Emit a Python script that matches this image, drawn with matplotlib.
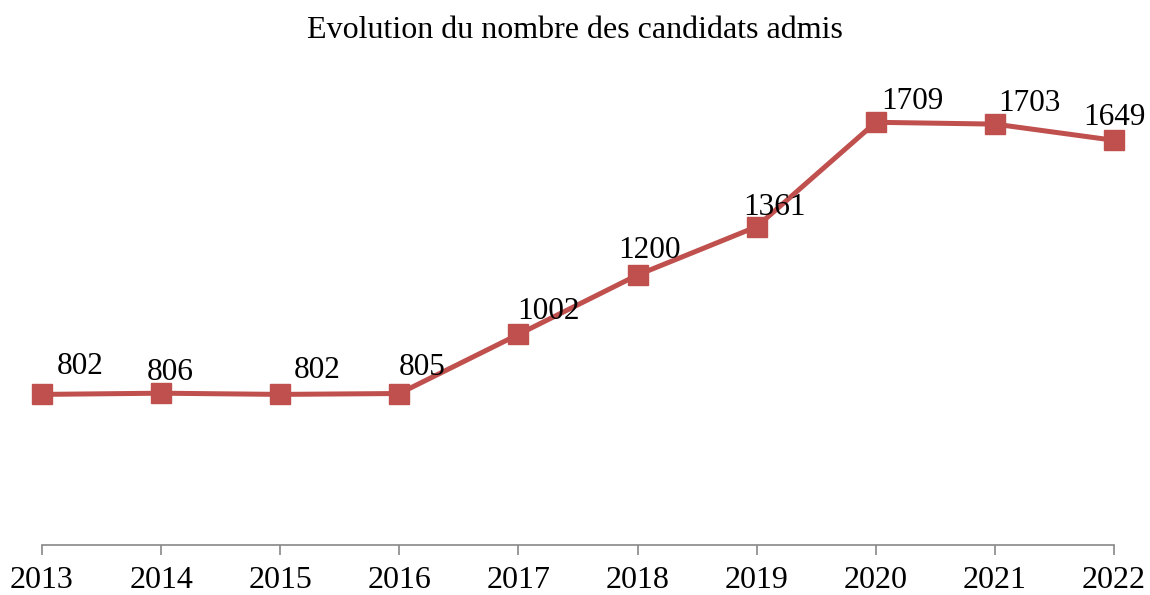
import matplotlib.pyplot as plt

years = [2013, 2014, 2015, 2016, 2017, 2018, 2019, 2020, 2021, 2022]
admis = [802, 806, 802, 805, 1002, 1200, 1361, 1709, 1703, 1649]

# label offsets (pixels) as placed in the original
lab_dx = [38, 9, 37, 23, 30, 12, 18, 37, 35, 0]
lab_dy = [28, 21, 24, 26, 23, 24, 19, 21, 21, 23]

plt.rcParams['font.family'] = ['Liberation Serif', 'DejaVu Serif']
red = '#C0504D'

fig = plt.figure(figsize=(11.5, 5.95), dpi=100)
ax = fig.add_axes([42/1150, 1 - 545/595, (1114 - 42)/1150, 450/595])

ax.plot(years, admis, color=red, lw=3.6, marker='s', markersize=14.5, clip_on=False)
for x, y, dx, dy in zip(years, admis, lab_dx, lab_dy):
    ax.annotate(str(y), (x, y), xytext=(dx*0.72, dy*0.72), textcoords='offset points',
                ha='center', va='center', fontsize=22.5)

ax.set_xlim(2013, 2022)
ax.set_ylim(300, 1800)
ax.set_xticks(years)
ax.set_xticklabels([str(y) for y in years], fontsize=23)
ax.set_yticks([])
for s in ['left', 'right', 'top']:
    ax.spines[s].set_visible(False)
ax.spines['bottom'].set_color('#888888')
ax.spines['bottom'].set_linewidth(1.2)
ax.tick_params(axis='x', direction='out', length=7, width=1.2, color='#888888', pad=8)

fig.text(575/1150, 1 - 30/595, 'Evolution du nombre des candidats admis',
         ha='center', va='center', fontsize=23)

fig.savefig('out.png', dpi=100)
